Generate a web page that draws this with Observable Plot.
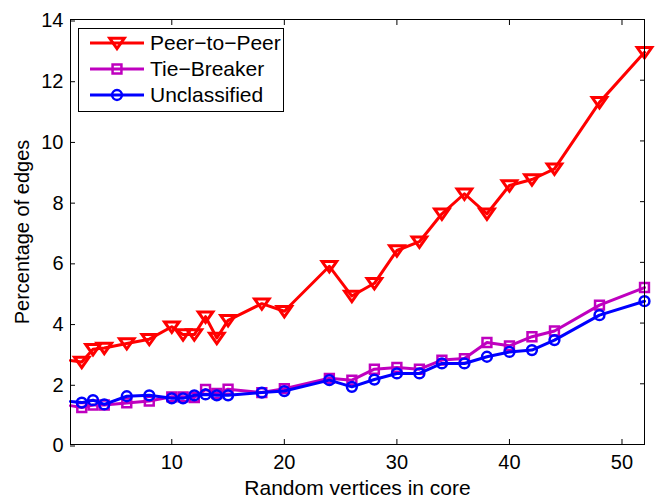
<!DOCTYPE html>
<html>
<head>
<meta charset="utf-8">
<script src="https://cdn.jsdelivr.net/npm/d3@7"></script>
<script src="https://cdn.jsdelivr.net/npm/@observablehq/plot@0.6"></script>
<style>
  html, body { margin: 0; padding: 0; background: #fff; }
  #chart svg { display: block; }
</style>
</head>
<body>
<div id="chart"></div>
<script>
// Number of random vertices in the core (the first sample sits on the left frame edge)
const vertices = [1, 2, 3, 4, 6, 8, 10, 11, 12, 13, 14, 15, 18, 20, 24, 26, 28, 30, 32, 34, 36, 38, 40, 42, 44, 48, 52];

// Percentage of edges per class
const peerToPeer = [2.77, 2.72, 3.14, 3.18, 3.33, 3.47, 3.88, 3.62, 3.62, 4.21, 3.51, 4.09, 4.64, 4.39, 5.87, 4.89, 5.31, 6.39, 6.68, 7.60, 8.26, 7.60, 8.53, 8.73, 9.08, 11.27, 12.92];
const tieBreaker = [1.28, 1.22, 1.30, 1.30, 1.37, 1.43, 1.57, 1.57, 1.55, 1.81, 1.68, 1.82, 1.71, 1.84, 2.18, 2.12, 2.48, 2.54, 2.48, 2.78, 2.83, 3.36, 3.25, 3.55, 3.74, 4.59, 5.17];
const unclassified = [1.42, 1.38, 1.46, 1.32, 1.59, 1.62, 1.52, 1.52, 1.62, 1.65, 1.62, 1.62, 1.71, 1.76, 2.12, 1.90, 2.14, 2.34, 2.34, 2.67, 2.67, 2.89, 3.05, 3.11, 3.44, 4.26, 4.72];

const seriesNames = ["Peer\u2212to\u2212Peer", "Tie\u2212Breaker", "Unclassified"];
const xTicks = [10, 20, 30, 40, 50];
const yTicks = [0, 2, 4, 6, 8, 10, 12, 14];
const xDomain = [1, 52];
const yDomain = [0, 14];

// Downward-pointing triangle marker (slightly flattened)
const triangleDown = {
  draw(context, size) {
    const r = Math.sqrt(size / Math.PI);
    context.moveTo(-1.3 * r, -0.85 * r);
    context.lineTo(1.3 * r, -0.85 * r);
    context.lineTo(0, 1.0 * r);
    context.closePath();
  }
};

const series = [
  {name: seriesNames[0], values: peerToPeer, color: "#ff0000", symbol: triangleDown, r: 5.6, sw: 3},
  {name: seriesNames[1], values: tieBreaker, color: "#bf00bf", symbol: d3.symbolSquare, r: 5.0, sw: 2.5},
  {name: seriesNames[2], values: unclassified, color: "#0000ff", symbol: d3.symbolCircle, r: 4.9, sw: 2.5}
];

const rows = series.flatMap(s => vertices.map((v, i) => ({series: s.name, v, value: s.values[i]})));

const lineMarks = series.flatMap(s => {
  const data = rows.filter(d => d.series === s.name);
  return [
    Plot.line(data, {x: "v", y: "value", stroke: s.color, strokeWidth: 3, strokeLinejoin: "round"}),
    Plot.dot(data.filter(d => d.v > xDomain[0]), {
      x: "v", y: "value", symbol: s.symbol, r: s.r,
      stroke: s.color, fill: "none", strokeWidth: s.sw
    })
  ];
});

const chart = Plot.plot({
  width: 658,
  height: 498,
  marginLeft: 70,
  marginRight: 14,
  marginTop: 19,
  marginBottom: 54,
  style: {fontFamily: "'Liberation Sans', Arial, Helvetica, sans-serif", fontSize: "20px", color: "black", background: "white"},
  x: {domain: xDomain},
  y: {domain: yDomain},
  marks: [
    ...lineMarks,
    Plot.frame({stroke: "black", strokeWidth: 1}),
    Plot.axisX({anchor: "bottom", ticks: xTicks, tickSize: -5, tickPadding: 15, fontSize: 20,
      label: null}),
    Plot.axisX({anchor: "bottom", ticks: [], tickSize: 0, fontSize: 21,
      label: "Random vertices in core", labelAnchor: "center", labelOffset: 50, labelArrow: "none"}),
    Plot.axisX({anchor: "top", ticks: xTicks, tickSize: -5, tickFormat: () => "", label: null}),
    Plot.axisY({anchor: "left", ticks: yTicks, tickSize: -5, tickPadding: 12, dy: 1.5, fontSize: 20,
      label: null}),
    Plot.axisY({anchor: "left", ticks: [], tickSize: 0, fontSize: 20,
      label: "Percentage of edges", labelAnchor: "center", labelOffset: 56, labelArrow: "none"}),
    Plot.axisY({anchor: "right", ticks: yTicks, tickSize: -5, tickFormat: () => "", label: null})
  ]
});

document.getElementById("chart").appendChild(chart);

// Legend box in the upper-left corner of the axes
const svg = d3.select(chart);
const legend = svg.append("g").attr("font-size", 21).attr("text-anchor", "start");
legend.append("rect")
  .attr("x", 78.5).attr("y", 28.5).attr("width", 205).attr("height", 83)
  .attr("fill", "white").attr("stroke", "black").attr("stroke-width", 1);
series.forEach((s, i) => {
  const y = 43 + i * 26;
  legend.append("line")
    .attr("x1", 90).attr("x2", 144).attr("y1", y).attr("y2", y)
    .attr("stroke", s.color).attr("stroke-width", 3);
  legend.append("path")
    .attr("d", d3.symbol(s.symbol, Math.PI * s.r * s.r)())
    .attr("transform", `translate(117,${y})`)
    .attr("fill", "none").attr("stroke", s.color).attr("stroke-width", s.sw);
  legend.append("text")
    .attr("x", 150).attr("y", y).attr("dy", "0.35em")
    .attr("fill", "black")
    .text(s.name);
});
</script>
</body>
</html>
